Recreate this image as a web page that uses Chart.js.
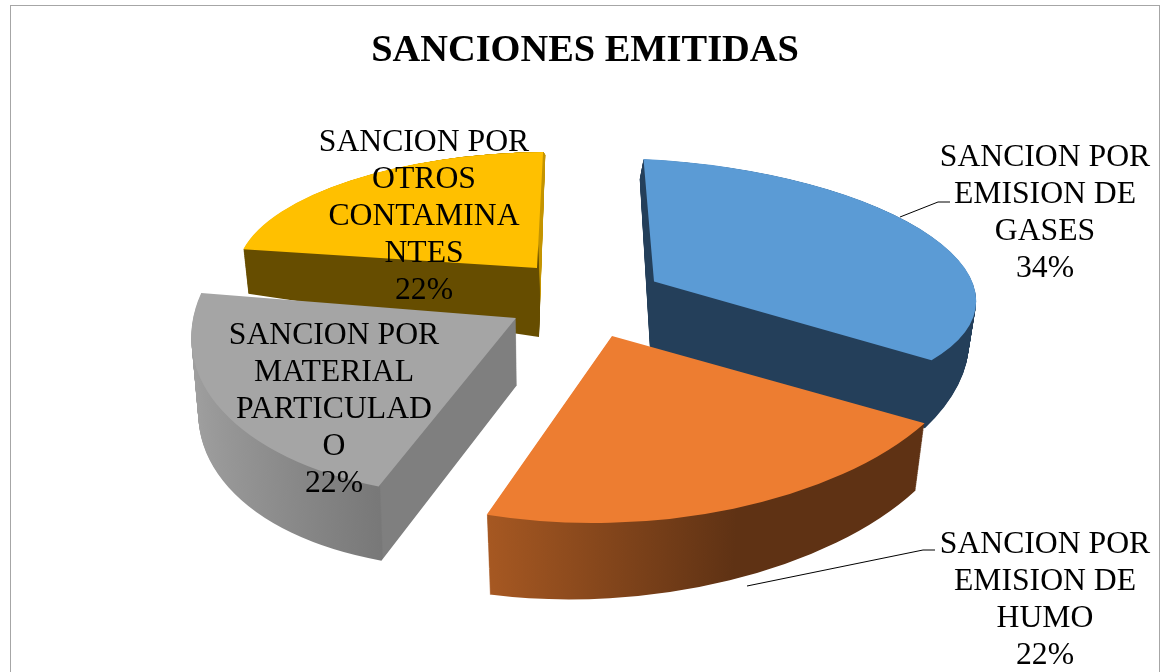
<!DOCTYPE html>
<html>
<head>
<meta charset="utf-8">
<style>
html,body{margin:0;padding:0;background:#fff;overflow:hidden}
#frame{position:absolute;left:10px;top:5px;width:1150px;height:680px;border:1px solid #a6a6a6;box-sizing:border-box;background:#fff}
#frame canvas{position:absolute;left:0;top:0}
</style>
<script src="https://cdn.jsdelivr.net/npm/chart.js@4/dist/chart.umd.min.js"></script>
</head>
<body>
<div id="frame"><canvas id="c" width="1148" height="666"></canvas></div>
<script>
const chartTitle = 'SANCIONES EMITIDAS';
const categories = [
  ['SANCION POR','EMISION DE','GASES'],
  ['SANCION POR','EMISION DE','HUMO'],
  ['SANCION POR','MATERIAL','PARTICULAD','O'],
  ['SANCION POR','OTROS','CONTAMINA','NTES']
];
const values = [34, 22, 22, 22];
const faceColors = ['#5b9bd5', '#ed7d31', '#a5a5a5', '#ffc000'];

// Styling / view of the fake 3D pie (one entry per slice)
const startRotation = -4;
const drawOrder = [3, 0, 2, 1];
const views = [
  {ax:68, ay:-58,  m:[322,24,-12,121], depth:68, dxB:-4, dA:-3, dB:-27, dD:50, axis:'x',
   wall:[[-100,'#243f5a'],[400,'#243f5a']]},
  {ax:26, ay:-3.5, m:[364,-2,-16,187], depth:79, dxB:0,  dA:-10, dB:-12, dD:-3, axis:'x',
   wall:[[-110,'#a65822'],[140,'#5f3214'],[330,'#5f3214']]},
  {ax:-70,ay:-21.5,m:[322,4,-42,178],  depth:67, dxB:1,  dA:-6, dB:-8, dD:5, axis:'x',
   wall:[[-322,'#a0a0a0'],[-97,'#787878'],[-96,'#7f7f7f'],[10,'#7f7f7f']]},
  {ax:-49,ay:-71.5,m:[299,5,-27,116],  depth:69, dxB:2,  dA:-3, dB:17, dD:65, axis:'y',
   wall:[[-116,'#c49400'],[-25,'#c49400'],[-18,'#664d00'],[10,'#664d00']]}
];
const labelPlace = [[1034,152],[1034,539],[323,330],[413,137]];
const leaders = [
  [[889,211],[927,196],[939,196]],
  [[736,580],[912,544],[924,544]],
  null,
  null
];
const lineHeight = 37;
const labelFont = '31.7px "Liberation Serif"';

const pie3d = {
  id:'pie3d',
  beforeDatasetDraw(chart){
    const ctx = chart.ctx, arcs = chart.getDatasetMeta(0).data;
    const cx = 575, cy = 333.5;
    drawOrder.forEach(i=>{
      const el = arcs[i], v = views[i], R = el.outerRadius;
      const base = el.options;
      const place = (t)=>{
        ctx.setTransform(1,0,0,1,0,0);
        ctx.translate(cx+v.ax+v.dxB*t, cy+v.ay+v.depth*t);
        ctx.transform((v.m[0]+v.dA*t)/R,(v.m[1]+v.dB*t)/R,v.m[2]/R,(v.m[3]+v.dD*t)/R,0,0);
        ctx.translate(-el.x,-el.y);
      };
      ctx.save();
      // wall gradient, defined in the slice's own coordinates
      const s0 = v.wall[0][0], s1 = v.wall[v.wall.length-1][0];
      const g = v.axis==='x'
        ? ctx.createLinearGradient(el.x+s0/v.m[0]*R,0,el.x+s1/v.m[0]*R,0)
        : ctx.createLinearGradient(0,el.y+s0/v.m[3]*R,0,el.y+s1/v.m[3]*R);
      v.wall.forEach(w=>g.addColorStop((w[0]-s0)/(s1-s0),w[1]));
      el.options = Object.assign({},base,{backgroundColor:g,borderWidth:0});
      for(let d=v.depth;d>=1;d--){ place(d/v.depth); el.draw(ctx); }
      el.options = Object.assign({},base,{backgroundColor:faceColors[i],borderWidth:0});
      place(0); el.draw(ctx);
      el.options = base;
      ctx.restore();
    });
    return false;
  },
  afterDraw(chart){
    const ctx = chart.ctx;
    ctx.save();
    ctx.setTransform(1,0,0,1,0,0);
    leaders.forEach(l=>{
      if(!l) return;
      ctx.beginPath();
      l.forEach((p,k)=>k?ctx.lineTo(p[0],p[1]):ctx.moveTo(p[0],p[1]));
      ctx.strokeStyle='#000'; ctx.lineWidth=1; ctx.stroke();
    });
    ctx.font = labelFont; ctx.fillStyle='#000';
    ctx.textAlign='center'; ctx.textBaseline='middle';
    categories.forEach((lines,i)=>{
      const all = lines.concat([values[i]+'%']);
      all.forEach((t,k)=>ctx.fillText(t,labelPlace[i][0],labelPlace[i][1]+k*lineHeight));
    });
    ctx.restore();
  }
};

new Chart(document.getElementById('c'),{
  type:'pie',
  data:{labels:categories.map(l=>l.join(' ')),datasets:[{data:values,backgroundColor:faceColors,borderWidth:0}]},
  options:{
    responsive:false,animation:false,
    rotation:startRotation,
    plugins:{
      legend:{display:false},tooltip:{enabled:false},
      title:{display:true,text:chartTitle,color:'#000',
        font:{family:'"Liberation Serif"',size:38.4,weight:'bold'},padding:{top:22,bottom:10}}
    }
  },
  plugins:[pie3d]
});
</script>
</body>
</html>
